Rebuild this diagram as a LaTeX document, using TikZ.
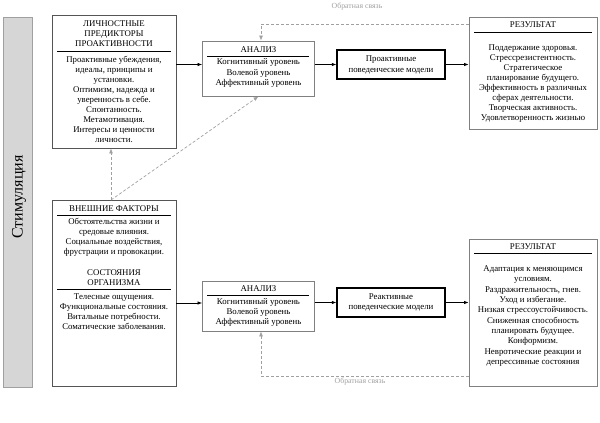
\documentclass[tikz,border=0pt]{standalone}
\usepackage{fontspec}
\setmainfont{Liberation Serif}
\usetikzlibrary{arrows.meta}
\definecolor{dashgray}{HTML}{A0A0A0}
\definecolor{bargray}{HTML}{D6D6D6}
\definecolor{bordgray}{HTML}{555555}
\definecolor{resgray}{HTML}{808080}
\begin{document}
\begin{tikzpicture}[x=1pt,y=-1pt,
  txt/.style={inner sep=0pt,align=center,font=\fontsize{8.8}{10.1}\selectfont},
  lbox/.style={draw=bordgray,line width=0.8pt,inner sep=0pt},
  abox/.style={draw=resgray,line width=0.8pt,inner sep=0pt},
  rbox/.style={draw=resgray,line width=0.9pt,inner sep=0pt},
  mbox/.style={draw=black,line width=1.4pt,inner sep=0pt},
  sep/.style={draw=black,line width=0.9pt},
  arr/.style={draw=black,line width=0.7pt,-{Latex[length=4.5pt,width=3.5pt]}},
  darr/.style={draw=dashgray,line width=0.7pt,dash pattern=on 3pt off 2pt,-{Latex[length=5pt,width=4pt]}},
  fbl/.style={inner sep=0pt,text=dashgray,font=\fontsize{7.8}{9}\selectfont}]
\useasboundingbox (0,0) rectangle (600,423);

% stimulation bar
\node[draw=dashgray,fill=bargray,line width=0.8pt,minimum width=29pt,minimum height=370pt,inner sep=0pt] (bar) at (17.5,202) {};
\node[rotate=90,inner sep=0pt,font=\fontsize{16}{16}\selectfont] (stim) at (19,197) {Стимуляция};

% top-left box
\node[lbox,minimum width=124pt,minimum height=133pt] (tl) at (114,81.5) {};
\node[txt] (tlT) at (114,34) {ЛИЧНОСТНЫЕ\\ПРЕДИКТОРЫ\\ПРОАКТИВНОСТИ};
\draw[sep] (57,51) -- (171,51);
\node[txt] (tlB) at (114,99.5) {Проактивные убеждения,\\идеалы, принципы и\\установки.\\Оптимизм, надежда и\\уверенность в себе.\\Спонтанность.\\Метамотивация.\\Интересы и ценности\\личности.};

% bottom-left box
\node[lbox,minimum width=124pt,minimum height=186pt] (bl) at (114,293) {};
\node[txt] (blT1) at (114,209) {ВНЕШНИЕ ФАКТОРЫ};
\draw[sep] (57,215.5) -- (171,215.5);
\node[txt] (blB1) at (114,237.5) {Обстоятельства жизни и\\средовые влияния.\\Социальные воздействия,\\фрустрации и провокации.};
\node[txt] (blT2) at (114,277.5) {СОСТОЯНИЯ\\ОРГАНИЗМА};
\draw[sep] (57,289) -- (171,289);
\node[txt] (blB2) at (114,311.5) {Телесные ощущения.\\Функциональные состояния.\\Витальные потребности.\\Соматические заболевания.};

% analysis top
\node[abox,minimum width=112pt,minimum height=55pt] (at) at (258.5,68.5) {};
\node[txt] (atT) at (258.5,50) {АНАЛИЗ};
\draw[sep] (207,56.5) -- (309,56.5);
\node[txt] (atB) at (258.5,73) {Когнитивный уровень\\Волевой уровень\\Аффективный уровень};

% analysis bottom
\node[abox,minimum width=112pt,minimum height=50pt] (ab) at (258.5,306) {};
\node[txt] (abT) at (258.5,289) {АНАЛИЗ};
\draw[sep] (207,295.5) -- (309,295.5);
\node[txt] (abB) at (258.5,312.5) {Когнитивный уровень\\Волевой уровень\\Аффективный уровень};

% behaviour models
\node[mbox,minimum width=108pt,minimum height=29pt] (pm) at (391,64.5) {};
\node[txt] (pmT) at (391,65) {Проактивные\\поведенческие модели};
\node[mbox,minimum width=108pt,minimum height=29pt] (rm) at (391,302.5) {};
\node[txt] (rmT) at (391,302.5) {Реактивные\\поведенческие модели};

% results
\node[rbox,minimum width=128pt,minimum height=112pt] (rt) at (533,73) {};
\node[txt] (rtT) at (533,25) {РЕЗУЛЬТАТ};
\draw[sep] (474,32.5) -- (592,32.5);
\node[txt] (rtB) at (533,83.5) {Поддержание здоровья.\\Стрессрезистентность.\\Стратегическое\\планирование будущего.\\Эффективность в различных\\сферах деятельности.\\Творческая активность.\\Удовлетворенность жизнью};

\node[rbox,minimum width=128pt,minimum height=147pt] (rb) at (533,312.5) {};
\node[txt] (rbT) at (533,247) {РЕЗУЛЬТАТ};
\draw[sep] (474,253.5) -- (592,253.5);
\node[txt,font=\fontsize{8.8}{10.3}\selectfont] (rbB) at (533,316) {Адаптация к меняющимся\\условиям.\\Раздражительность, гнев.\\Уход и избегание.\\Низкая стрессоустойчивость.\\Сниженная способность\\планировать будущее.\\Конформизм.\\Невротические реакции и\\депрессивные состояния};

% solid arrows
\draw[arr] (tl.east |- 0,64.5) -- (at.west |- 0,64.5);
\draw[arr] (at.east |- pm.west) -- (pm.west);
\draw[arr] (pm.east) -- (rt.west |- pm.east);
\draw[arr] (bl.east |- 0,303) -- (ab.west |- 0,303);
\draw[arr] (ab.east |- rm.west) -- (rm.west);
\draw[arr] (rm.east) -- (rb.west |- rm.east);

% dashed arrows
\coordinate (blTop) at (111,200);
\draw[darr] (blTop) -- (tl.south -| blTop);
\draw[darr] (blTop) -- (at.south);

% feedback
\coordinate (fbT) at (261,24);
\draw[darr] (rt.west |- fbT) -- (fbT) -- (at.north -| fbT);
\node[fbl] (fbTl) at (357,7) {Обратная связь};
\coordinate (fbB) at (261,376);
\draw[darr] (rb.west |- fbB) -- (fbB) -- (ab.south -| fbB);
\node[fbl] (fbBl) at (360,382) {Обратная связь};
\end{tikzpicture}
\end{document}
